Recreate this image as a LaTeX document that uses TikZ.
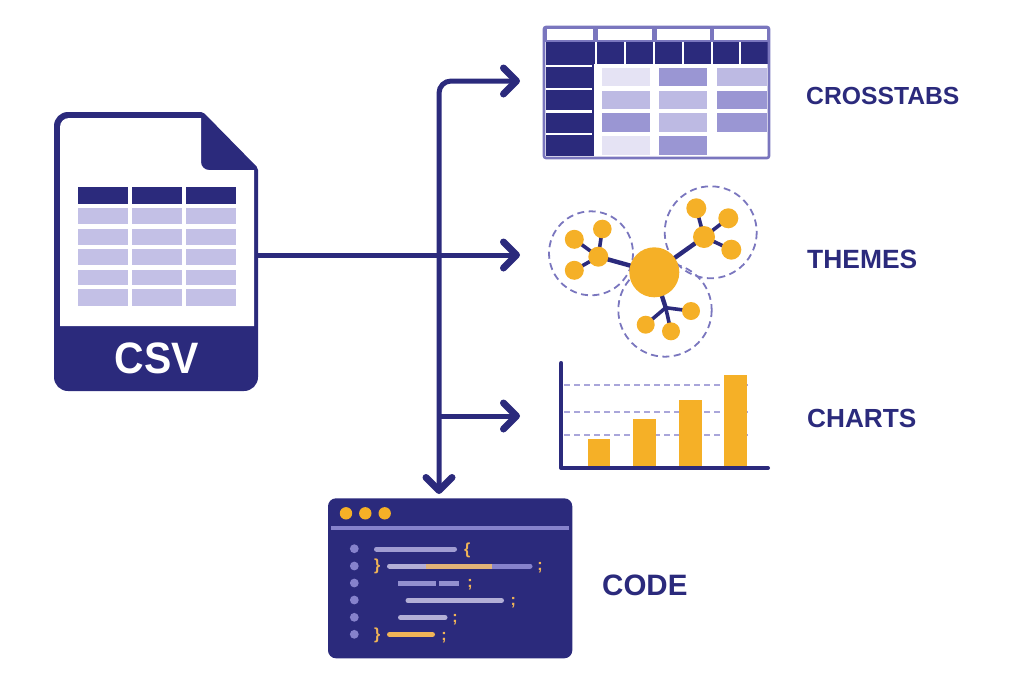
\documentclass[tikz,border=0pt]{standalone}
\usepackage{fontspec}
\setmainfont{Liberation Sans}
\newfontfamily\csvfont{Liberation Sans}[FakeStretch=0.93]
\usetikzlibrary{arrows.meta}
\definecolor{navy}{HTML}{2B2A7C}
\definecolor{edgeblue}{HTML}{7A76BE}
\definecolor{rowblue}{HTML}{C3C0E6}
\definecolor{palecell}{HTML}{E5E3F4}
\definecolor{midcell}{HTML}{BDBAE3}
\definecolor{darkcell}{HTML}{9A96D3}
\definecolor{amber}{HTML}{F5B027}
\definecolor{softamber}{HTML}{F0B457}
\definecolor{bullet}{HTML}{8682CC}
\definecolor{greybar}{HTML}{B3AFD6}

\begin{document}
\begin{tikzpicture}[x=1pt,y=-1pt,
    barb/.tip={Straight Barb[length=13pt,width=26pt,line width=7pt,round]},
    flow/.style={draw=navy,line width=5pt,rounded corners=12pt,barb-barb},
    flowend/.style={draw=navy,line width=5pt,-barb},
    label/.style={text=navy,font=\bfseries,anchor=west,inner sep=0pt},
    grid/.style={draw=darkcell!85!white,line width=1.8pt,dash pattern=on 6pt off 4pt},
    halo/.style={draw=edgeblue,line width=1.8pt,dash pattern=on 7pt off 4.5pt},
    stem/.style={draw=navy,line width=3.6pt},
    codebar/.style={line width=5pt,line cap=round},
    sign/.style={text=softamber,font=\bfseries\fontsize{16}{16}\selectfont,inner sep=0pt}]
    \useasboundingbox (0,0) rectangle (1024,683);

    % Datei
    \fill[navy] (54,330) [rounded corners=14pt] -- (54,112) [rounded corners=2pt] -- (203,112) -- (258,168) [rounded corners=14pt] -- (258,391) -- (54,391) [sharp corners] -- cycle;
    \fill[white] (60,326) [rounded corners=9pt] -- (60,118) [sharp corners] -- (201,118) [rounded corners=8pt] -- (201,170) [sharp corners] -- (254,170) -- (254,326) -- cycle;
    \node[text=white,font=\csvfont\bfseries\fontsize{44}{44}\selectfont,inner sep=0pt] (csv) at (157,358) {CSV};
    \foreach \xa/\xb in {78/128,132/182,186/236} {
        \fill[navy] (\xa,187) rectangle (\xb,204);
        \foreach \ya/\yb in {208/224,229/245,249/265,270/285,289/306}
            \fill[rowblue] (\xa,\ya) rectangle (\xb,\yb);
    }

    % Kreuztabelle
    \fill[white] (544,27) rectangle (769,158);
    \fill[edgeblue] (544,27) rectangle (769,42);
    \foreach \xa/\xb in {547/593,598/652,657/710,714/767}
        \fill[white] (\xa,29) rectangle (\xb,39.5);
    \fill[navy] (545.5,42) rectangle (767.5,64);
    \fill[navy] (545.5,64) rectangle (593.5,156);
    \foreach \x in {596,625,654,683,712,740}
        \fill[white] (\x-1.3,42) rectangle (\x+1.3,64);
    \foreach \y in {65.7,88.7,111.3,134}
        \fill[white] (545.5,\y-1.2) rectangle (591.5,\y+1.2);
    \foreach \xa/\xb/\ya/\yb/\cell in {
        602/650/68/86/palecell, 659/707/68/86/darkcell, 717/767/68/86/midcell,
        602/650/91/109/midcell, 659/707/91/109/midcell, 717/767/91/109/darkcell,
        602/650/113/132/darkcell, 659/707/113/132/midcell, 717/767/113/132/darkcell,
        602/650/136/155/palecell, 659/707/136/155/darkcell}
        \fill[\cell] (\xa,\ya) rectangle (\xb,\yb);
    \draw[edgeblue,line width=2.6pt,rounded corners=2pt] (544,27) rectangle (769,158);

    % Themen
    \draw[halo] (591,253.3) circle (42);
    \draw[halo] (710.7,232.3) circle (46);
    \draw[halo] (665,310) circle (46.7);
    \coordinate (hub) at (654.3,272.3);
    \coordinate (lefthub) at (598.3,256.7);
    \coordinate (righthub) at (704,237);
    \coordinate (fork) at (665.7,307.7);
    \foreach \a/\b in {hub/lefthub,hub/righthub,hub/fork}
        \draw[stem,line width=4.4pt] (\a) -- (\b);
    \foreach \leaf/\r/\from in {
        574.3/239.3/lefthub, 602.3/229/lefthub, 574.3/270.3/lefthub,
        696.3/208.3/righthub, 728.3/218.3/righthub, 731.3/249.7/righthub,
        691/311/fork, 671/331.3/fork, 645.7/324.7/fork}
        \draw[stem] (\from) -- (\leaf,\r);
    \foreach \x/\y/\r in {
        654.3/272.3/25, 598.3/256.7/10, 704/237/11,
        574.3/239.3/9.5, 602.3/229/9.3, 574.3/270.3/9.5,
        696.3/208.3/10, 728.3/218.3/10, 731.3/249.7/10,
        691/311/9, 671/331.3/9, 645.7/324.7/9}
        \fill[amber] (\x,\y) circle (\r);

    % Balken
    \foreach \y in {385.3,412.3,435}
        \draw[grid] (564,\y) -- (748,\y);
    \foreach \xa/\xb/\y in {587.7/610.3/439,633.3/656/419,679/701.7/399.7,724.3/747/375.3}
        \fill[amber] (\xa,\y) rectangle (\xb,466);
    \draw[navy,line width=4pt,line cap=round,line join=round] (561.3,363) -- (561.3,468) -- (768,468);

    % Code
    \fill[navy,rounded corners=8pt] (328,498.3) rectangle (572.3,658.3);
    \foreach \x in {346,365.3,384.7}
        \fill[amber] (\x,513.3) circle (6.2);
    \fill[bullet] (331,526) rectangle (569,529.5);
    \foreach \y in {548.7,566,583,600,617.3,634.3}
        \fill[bullet] (354.3,\y) circle (4.4);
    \draw[codebar,greybar!60!bullet] (376.5,549) -- (454.5,549);
    \draw[codebar,greybar] (389.5,566) -- (426,566);
    \draw[codebar,bullet] (492,566) -- (530,566);
    \draw[line width=5pt,greybar!25!softamber] (426,566) -- (492,566);
    \draw[line width=5pt,bullet!70!greybar] (398.3,583) -- (436,583);
    \draw[line width=5pt,bullet!70!greybar] (439.3,583) -- (458.7,583);
    \draw[codebar,greybar] (408,600.5) -- (501.5,600.5);
    \draw[codebar,greybar] (400.5,617.5) -- (445,617.5);
    \draw[codebar,softamber] (389.5,634.5) -- (432.5,634.5);
    \node[sign] (open) at (467.3,550) {\{};
    \node[sign] (closea) at (377.3,566) {\}};
    \node[sign] (closeb) at (377.3,635) {\}};
    \foreach \x/\y in {540/568,470/585,513.3/603,455/620,444/638}
        \node[sign] at (\x,\y) {;};

    % Pfeile
    \coordinate (fileout) at (258,255);
    \coordinate (tabin) at (520,81);
    \coordinate (themein) at (520,255);
    \coordinate (chartin) at (520,416);
    \coordinate (codein) at (439,494);
    \coordinate (branch) at (439,416);
    \draw[flow] (codein) |- (tabin);
    \draw[flowend] (fileout) -- (themein);
    \draw[flowend] (branch) -- (chartin);

    % Beschriftung
    \node[label,font=\bfseries\fontsize{24.7}{25}\selectfont] (crosstabs) at (806,96) {CROSSTABS};
    \node[label,font=\bfseries\fontsize{26.4}{26}\selectfont] (themes) at (807,259) {THEMES};
    \node[label,font=\bfseries\fontsize{26.2}{26}\selectfont] (charts) at (807,418) {CHARTS};
    \node[label,font=\bfseries\fontsize{29.5}{30}\selectfont] (code) at (602,585) {CODE};
\end{tikzpicture}
\end{document}
